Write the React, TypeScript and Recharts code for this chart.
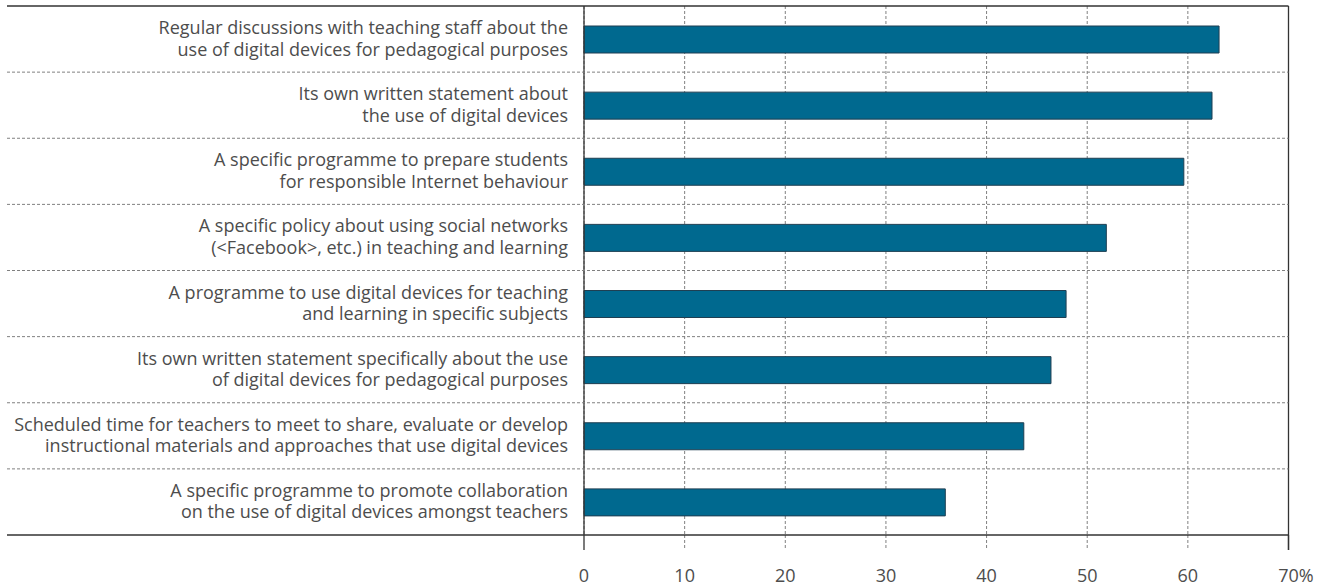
import { BarChart, Bar, XAxis, YAxis, CartesianGrid } from 'recharts'

// each category label is split over two lines, like in the source chart
const categories: string[][] = [
  ['Regular discussions with teaching staff about the', 'use of digital devices for pedagogical purposes'],
  ['Its own written statement about', 'the use of digital devices'],
  ['A specific programme to prepare students', 'for responsible Internet behaviour'],
  ['A specific policy about using social networks', '(<Facebook>, etc.) in teaching and learning'],
  ['A programme to use digital devices for teaching', 'and learning in specific subjects'],
  ['Its own written statement specifically about the use', 'of digital devices for pedagogical purposes'],
  ['Scheduled time for teachers to meet to share, evaluate or develop', 'instructional materials and approaches that use digital devices'],
  ['A specific programme to promote collaboration', 'on the use of digital devices amongst teachers'],
]

const shares = [63.1, 62.4, 59.6, 51.9, 47.9, 46.4, 43.7, 35.9]

const xTicks = [0, 10, 20, 30, 40, 50, 60, 70]

const data = categories.map((lines, i) => ({ name: lines.join('|'), value: shares[i] }))

const W = 1323
const H = 587
const MARGIN = { top: 6, right: 34.5, bottom: 0, left: 0 }
const Y_AXIS_W = 584
const X_AXIS_H = 52
const PLOT_RIGHT = W - MARGIN.right
const PLOT_H = H - MARGIN.top - MARGIN.bottom - X_AXIS_H
const BAND = PLOT_H / categories.length
const LINE_LEFT = 7

const TEXT = '#4d4d4d'
const AXIS = '#333'
const GRID = '#808080'
const FONT = "'Open Sans', sans-serif"

const CategoryTick = (props: any) => {
  const { x, y, payload, index } = props
  const lines = String(payload.value).split('|')
  const top = y - BAND / 2
  const bottom = y + BAND / 2
  const last = index === categories.length - 1
  return (
    <g>
      {index === 0 && (
        <>
          <line x1={LINE_LEFT} x2={PLOT_RIGHT} y1={top} y2={top} stroke={AXIS} strokeWidth={1.3} />
          <line x1={PLOT_RIGHT} x2={PLOT_RIGHT} y1={top} y2={top + PLOT_H + 15} stroke={AXIS} strokeWidth={1.3} />
        </>
      )}
      {last ? (
        <line x1={LINE_LEFT} x2={PLOT_RIGHT} y1={bottom} y2={bottom} stroke={AXIS} strokeWidth={1.3} />
      ) : (
        <line x1={LINE_LEFT} x2={PLOT_RIGHT} y1={bottom} y2={bottom} stroke={GRID} strokeDasharray="3 2" />
      )}
      <text x={x - 16} y={y - 5} textAnchor="end" fill={TEXT} fontSize={18} fontFamily={FONT}>
        {lines[0]}
      </text>
      <text x={x - 16} y={y + 16.5} textAnchor="end" fill={TEXT} fontSize={18} fontFamily={FONT}>
        {lines[1]}
      </text>
    </g>
  )
}

const ValueTick = (props: any) => {
  const { x, y, payload } = props
  const v = payload.value
  const solid = v === xTicks[0] || v === xTicks[xTicks.length - 1]
  const isLast = v === xTicks[xTicks.length - 1]
  return (
    <g>
      <line
        x1={x}
        x2={x}
        y1={y}
        y2={y + 15}
        stroke={solid ? AXIS : GRID}
        strokeWidth={solid ? 1.3 : 1}
        strokeDasharray={solid ? undefined : '3 2'}
      />
      <text x={x} y={y + 47} textAnchor="middle" fill={TEXT} fontSize={18} fontFamily={FONT}>
        {v}
      </text>
      {isLast && (
        <text x={x + 10.3} y={y + 47} textAnchor="start" fill={TEXT} fontSize={18} fontFamily={FONT}>
          %
        </text>
      )}
    </g>
  )
}

export default function App() {
  return (
    <div style={{ position: 'absolute', left: 0, top: 0, background: '#fff' }}>
      <BarChart
        width={W}
        height={H}
        data={data}
        layout="vertical"
        margin={MARGIN}
        style={{ fontFamily: FONT }}
      >
        <CartesianGrid horizontal={false} stroke={GRID} strokeDasharray="3 2" />
        <XAxis
          type="number"
          domain={[0, 70]}
          ticks={xTicks}
          interval={0}
          height={X_AXIS_H}
          axisLine={false}
          tickLine={false}
          tickSize={0}
          tickMargin={0}
          tick={<ValueTick />}
        />
        <YAxis
          type="category"
          dataKey="name"
          width={Y_AXIS_W}
          interval={0}
          axisLine={{ stroke: AXIS, strokeWidth: 1.3 }}
          tickLine={false}
          tickSize={0}
          tickMargin={0}
          tick={<CategoryTick />}
        />
        <Bar
          dataKey="value"
          fill="#00698f"
          stroke="#1f3f52"
          strokeWidth={1}
          barSize={27}
          isAnimationActive={false}
        />
      </BarChart>
    </div>
  )
}
